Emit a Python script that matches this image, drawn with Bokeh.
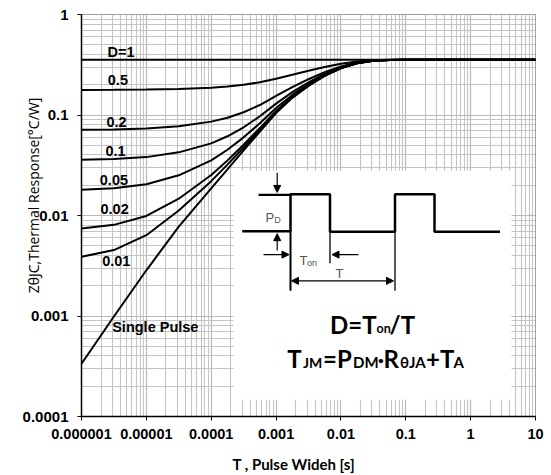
import math
from bokeh.plotting import figure
from bokeh.models import Range1d, FixedTicker, Label, Arrow, NormalHead
from bokeh.embed import file_html
from bokeh.resources import INLINE

# ---------------- data ----------------
t_pulse = [1e-6, 3.16e-6, 1e-5, 3.16e-5, 1e-4, 1.78e-4, 3.16e-4, 5.62e-4,
           1e-3, 1.78e-3, 3.16e-3, 5.62e-3, 1e-2, 1.78e-2, 3.16e-2, 5.62e-2,
           0.1, 1.0, 10.0]

z_single = [0.000335, 0.000989, 0.00285, 0.00776, 0.0186, 0.0288, 0.0444, 0.0684,
            0.1047, 0.148, 0.195, 0.245, 0.292, 0.327, 0.347, 0.353,
            0.355, 0.355, 0.355]
z_d001 = [0.00388, 0.00453, 0.00637, 0.01123, 0.02196, 0.03206, 0.04751, 0.07127,
          0.1072, 0.150, 0.1966, 0.2461, 0.2926, 0.3273, 0.3471, 0.353,
          0.355, 0.355, 0.355]
z_d002 = [0.00743, 0.00807, 0.00989, 0.0147, 0.02533, 0.03532, 0.05061, 0.07413,
          0.1097, 0.1521, 0.1982, 0.2472, 0.2933, 0.3276, 0.3472, 0.353,
          0.355, 0.355, 0.355]
z_d005 = [0.01807, 0.01869, 0.02046, 0.02512, 0.03542, 0.04511, 0.05993, 0.08273,
          0.1172, 0.1584, 0.2030, 0.2505, 0.2952, 0.3284, 0.3474, 0.3531,
          0.355, 0.355, 0.355]
z_d01 = [0.0358, 0.0364, 0.0381, 0.0425, 0.0522, 0.0614, 0.0755, 0.0971,
         0.1297, 0.1687, 0.2110, 0.2560, 0.2983, 0.3298, 0.3478, 0.3532,
         0.355, 0.355, 0.355]
z_d02 = [0.0713, 0.0718, 0.0733, 0.0772, 0.0859, 0.0940, 0.1065, 0.1257,
         0.1548, 0.1894, 0.2270, 0.2670, 0.3046, 0.3326, 0.3486, 0.3534,
         0.355, 0.355, 0.355]
z_d05 = [0.1777, 0.1780, 0.1789, 0.1814, 0.1868, 0.1919, 0.1997, 0.2117,
         0.2299, 0.2515, 0.2750, 0.3000, 0.3235, 0.3410, 0.3510, 0.3540,
         0.355, 0.355, 0.355]
z_d1 = [0.355] * len(t_pulse)

series = [z_single, z_d001, z_d002, z_d005, z_d01, z_d02, z_d05, z_d1]

x_ticks = [1e-6, 1e-5, 1e-4, 1e-3, 1e-2, 1e-1, 1.0, 10.0]
x_tick_labels = ["0.000001", "0.00001", "0.0001", "0.001", "0.01", "0.1", "1", "10"]
y_ticks = [1e-4, 1e-3, 1e-2, 1e-1, 1.0]
y_tick_labels = ["0.0001", "0.001", "0.01", "0.1", "1"]

curve_labels = ["D=1", "0.5", "0.2", "0.1", "0.05", "0.02", "0.01", "Single Pulse"]

NB = "\u00a0"
x_title = "T , Pulse Wideh [s]" + NB * 8
y_title = NB * 11 + "Z\u03b8JC,Thermal Response[\u00b0C/W]"

# ---------------- figure ----------------
XMIN, XMAX, YMIN, YMAX = 1e-6, 10.0, 1e-4, 1.0
p = figure(width=548, height=475, x_axis_type="log", y_axis_type="log",
           x_range=Range1d(XMIN, XMAX), y_range=Range1d(YMIN, YMAX),
           output_backend="svg", toolbar_location=None,
           min_border_left=81, min_border_right=13, min_border_top=14, min_border_bottom=52)
p.background_fill_color = "white"
p.border_fill_color = "white"
p.outline_line_color = "#a0a0a0"

# frame in page pixels (used to place annotation drawings)
FL, FR, FT, FB = 81.0, 535.0, 14.0, 423.0
def X(px):
    return 10 ** (math.log10(XMIN) + (px - FL) / (FR - FL) * (math.log10(XMAX) - math.log10(XMIN)))
def Y(py):
    return 10 ** (math.log10(YMAX) - (py - FT) / (FB - FT) * (math.log10(YMAX) - math.log10(YMIN)))

minor_x = [m * 10 ** e for e in range(-6, 1) for m in range(2, 10)]
minor_y = [m * 10 ** e for e in range(-4, 0) for m in range(2, 10)]
xt = FixedTicker(ticks=x_ticks, minor_ticks=minor_x)
yt = FixedTicker(ticks=y_ticks, minor_ticks=minor_y)
p.xaxis.ticker = xt
p.yaxis.ticker = yt
p.xgrid.ticker = xt
p.ygrid.ticker = yt
p.xaxis.major_label_overrides = dict(zip(x_ticks, x_tick_labels))
p.yaxis.major_label_overrides = dict(zip(y_ticks, y_tick_labels))

for g in (p.xgrid, p.ygrid):
    g.grid_line_color = "#b8b8b8"
    g.grid_line_width = 1.2
    g.minor_grid_line_color = "#c4c4c4"
    g.minor_grid_line_width = 1.1

for ax in (p.xaxis, p.yaxis):
    ax.axis_line_color = "black"
    ax.axis_line_width = 1.5
    ax.major_tick_line_color = "black"
    ax.major_tick_in = 0
    ax.major_tick_out = 4
    ax.minor_tick_line_color = None
    ax.major_label_text_font = "Liberation Sans"
    ax.major_label_text_font_style = "bold"
    ax.major_label_text_color = "black"
p.xaxis.major_label_text_font_size = "14.5px"
p.yaxis.major_label_text_font_size = "15px"
p.xaxis.major_label_standoff = 8
p.yaxis.major_label_standoff = 9

p.xaxis.axis_label = x_title
p.xaxis.axis_label_text_font = "Lato"
p.xaxis.axis_label_text_font_style = "bold"
p.xaxis.axis_label_text_font_size = "15px"
p.xaxis.axis_label_text_color = "black"
p.xaxis.axis_label_standoff = 13

p.yaxis.axis_label = y_title
p.yaxis.axis_label_text_font = "Open Sans"
p.yaxis.axis_label_text_font_style = "normal"
p.yaxis.axis_label_text_font_size = "14px"
p.yaxis.axis_label_text_color = "black"
p.yaxis.axis_label_standoff = -23

# white inset box
p.quad(left=[X(233)], right=[X(511)], top=[Y(173)], bottom=[Y(406)],
       fill_color="white", line_color=None)

# curves
for s in series:
    p.line(t_pulse, s, line_color="black", line_width=2)

# curve labels
lab_pos = [(107, 51.7), (107.3, 80.7), (106, 123.3), (105, 152.7), (99.3, 182.7),
           (100, 212.3), (101.7, 264.3), (111.7, 331.7)]
for txt_, (lx, ly) in zip(curve_labels, lab_pos):
    p.add_layout(Label(x=X(lx), y=Y(ly), text=txt_, text_font="Liberation Sans",
                       text_font_style="bold", text_font_size="14.5px",
                       text_baseline="middle", text_align="left", text_color="black"))

# ---------------- pulse diagram ----------------
wave_x = [241.7, 290, 290, 329.5, 329.5, 394.5, 394.5, 434, 434, 499.5]
wave_y = [234.5, 234.5, 197, 197, 235, 235, 197, 197, 235, 235]
p.line([X(v) for v in wave_x], [Y(v) for v in wave_y], line_color="black", line_width=2.5)
p.line([X(258), X(290)], [Y(197.5), Y(197.5)], line_color="black", line_width=2.2)
p.line([X(290), X(290)], [Y(234), Y(295)], line_color="black", line_width=2)
p.line([X(329.5), X(329.5)], [Y(235), Y(267)], line_color="black", line_width=1.3)
p.line([X(394.5), X(394.5)], [Y(235), Y(295)], line_color="black", line_width=1.3)

def arrow(x0, y0, x1, y1, both=False):
    kw = dict(end=NormalHead(size=7, fill_color="black", line_color="black", line_width=1),
              x_start=X(x0), y_start=Y(y0), x_end=X(x1), y_end=Y(y1),
              line_color="black", line_width=1.2)
    if both:
        kw["start"] = NormalHead(size=7, fill_color="black", line_color="black", line_width=1)
    p.add_layout(Arrow(**kw))

arrow(276.7, 175, 276.7, 195)
arrow(276.7, 254, 276.7, 237)
arrow(263, 258.3, 288.5, 258.3)
arrow(358, 258.3, 331.5, 258.3)
arrow(291, 285, 393, 285, both=True)

def txt(s, px, py, size, font="Liberation Sans", style="normal", color="black",
        align="left", angle=0.0, baseline="alphabetic"):
    p.add_layout(Label(x=X(px), y=Y(py), text=s, text_font=font, text_font_style=style,
                       text_font_size=size, text_color=color, text_align=align,
                       text_baseline=baseline, angle=angle))

GRAY = "#555555"
txt("P", 265, 221, "13px", color=GRAY)
txt("D", 273.8, 223.5, "9px", color=GRAY)
txt("T", 299, 264, "13px", color=GRAY)
txt("on", 306.5, 266.5, "9px", color=GRAY)
txt("T", 335, 277.5, "13px", color=GRAY)

# equations
EQF = "Lato"
txt("D=T", 329.5, 329.5, "24px", font=EQF, style="bold")
txt("on", 376, 333, "12.5px", font=EQF, style="bold")
txt("/T", 389, 329.5, "24px", font=EQF, style="bold")

txt("T", 286.7, 364, "24px", font=EQF, style="bold")
txt("JM", 302.5, 368, "14px", font=EQF, style="bold")
txt("=P", 322.5, 364, "24px", font=EQF, style="bold")
txt("DM", 352.5, 368, "15px", font=EQF, style="bold")
txt("\u2022", 377.5, 366, "10px", font=EQF, style="bold")
txt("R", 383, 364, "24px", font=EQF, style="bold")
txt("\u03b8JA", 399.5, 368, "15px", font=EQF, style="bold")
txt("+T", 425.5, 364, "24px", font=EQF, style="bold")
txt("A", 453, 368, "15px", font=EQF, style="bold")

open("out.html", "w").write(file_html(p, INLINE))
